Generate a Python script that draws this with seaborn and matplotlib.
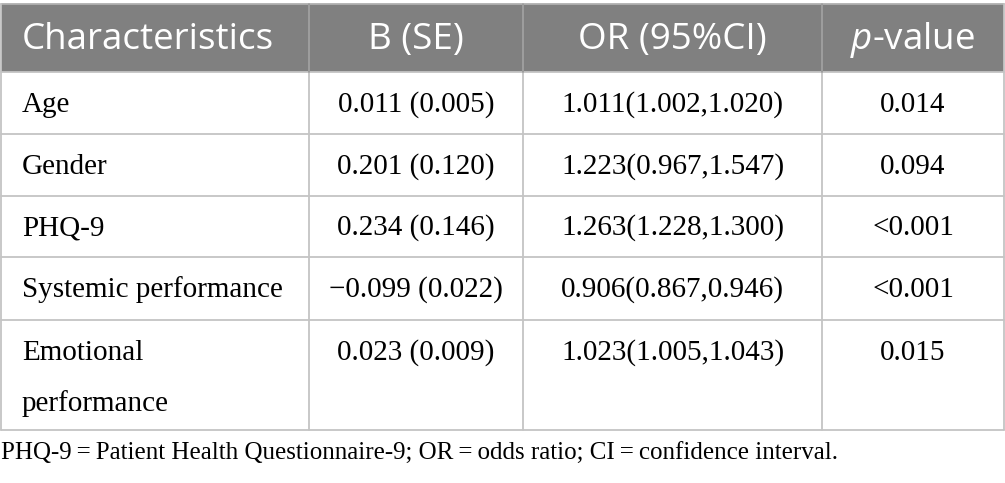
import matplotlib
matplotlib.use("Agg")
import matplotlib.pyplot as plt
import seaborn as sns

# table content
headers = ["Characteristics", "B (SE)", "OR (95%CI)", r"$\mathit{p}$-value"]
characteristics = ["Age", "Gender", "PHQ-9", "Systemic performance", "Emotional\nperformance"]
b_se = ["0.011 (0.005)", "0.201 (0.120)", "0.234 (0.146)", "\u22120.099 (0.022)", "0.023 (0.009)"]
or_ci = ["1.011(1.002,1.020)", "1.223(0.967,1.547)", "1.263(1.228,1.300)",
         "0.906(0.867,0.946)", "1.023(1.005,1.043)"]
p_values = ["0.014", "0.094", "<0.001", "<0.001", "0.015"]
footnote = ("PHQ-9\u2009=\u2009Patient Health Questionnaire-9; OR\u2009=\u2009odds ratio; "
            "CI\u2009=\u2009confidence interval.")

# layout in pixels
col_edges = [1, 309, 523, 822, 1004]
row_edges = [4, 72, 134, 196, 257, 320, 430]

sns.set_theme(style="white")
plt.rcParams["mathtext.fontset"] = "custom"
plt.rcParams["mathtext.rm"] = "Open Sans"
plt.rcParams["mathtext.it"] = "Open Sans:italic"

fig = plt.figure(figsize=(10.05, 4.83), dpi=100)
ax = fig.add_axes([0, 0, 1, 1])
ax.set_xlim(0, 1005)
ax.set_ylim(483, 0)
ax.axis("off")

header_gray = "#808080"
line_gray = "#c4c4c4"

# header band
ax.fill_between([col_edges[0], col_edges[-1]], row_edges[0], row_edges[1],
                color=header_gray, lw=0)

# grid lines
for y in row_edges[1:]:
    ax.plot([col_edges[0], col_edges[-1]], [y, y], color=line_gray, lw=1.3)
ax.plot([col_edges[0], col_edges[-1]], [row_edges[0], row_edges[0]], color="#b0b0b0", lw=1.3)
for i, x in enumerate(col_edges):
    ax.plot([x, x], [row_edges[0], row_edges[-1]], color=line_gray, lw=1.3)
    if 0 < i < len(col_edges) - 1:
        ax.plot([x, x], [row_edges[0], row_edges[1]], color="#9a9a9a", lw=1.3)

# header text
hy = (row_edges[0] + row_edges[1]) / 2 + 2
head_kw = dict(color="white", fontsize=26.5, family="Open Sans")
ax.text(col_edges[0] + 21, hy, headers[0], ha="left", va="center", **head_kw)
for j in range(1, 4):
    cx = (col_edges[j] + col_edges[j + 1]) / 2
    ax.text(cx, hy, headers[j], ha="center", va="center", **head_kw)

# body text
body_kw = dict(color="black", fontsize=21, family="Liberation Serif")
for r in range(len(characteristics)):
    y0, y1 = row_edges[r + 1], row_edges[r + 2]
    if "\n" in characteristics[r]:
        first, second = characteristics[r].split("\n")
        ty = y0 + 33
        ax.text(col_edges[0] + 21, ty, first, ha="left", va="center", **body_kw)
        ax.text(col_edges[0] + 21, ty + 51, second, ha="left", va="center", **body_kw)
    else:
        ty = (y0 + y1) / 2 + 1.5
        ax.text(col_edges[0] + 21, ty, characteristics[r], ha="left", va="center", **body_kw)
    for j, col in enumerate([b_se, or_ci, p_values], start=1):
        cx = (col_edges[j] + col_edges[j + 1]) / 2
        ax.text(cx, ty, col[r], ha="center", va="center", **body_kw)

ax.text(1, 454, footnote, ha="left", va="center", color="black",
        fontsize=18, family="Liberation Serif")

fig.savefig("out.png", dpi=100)
